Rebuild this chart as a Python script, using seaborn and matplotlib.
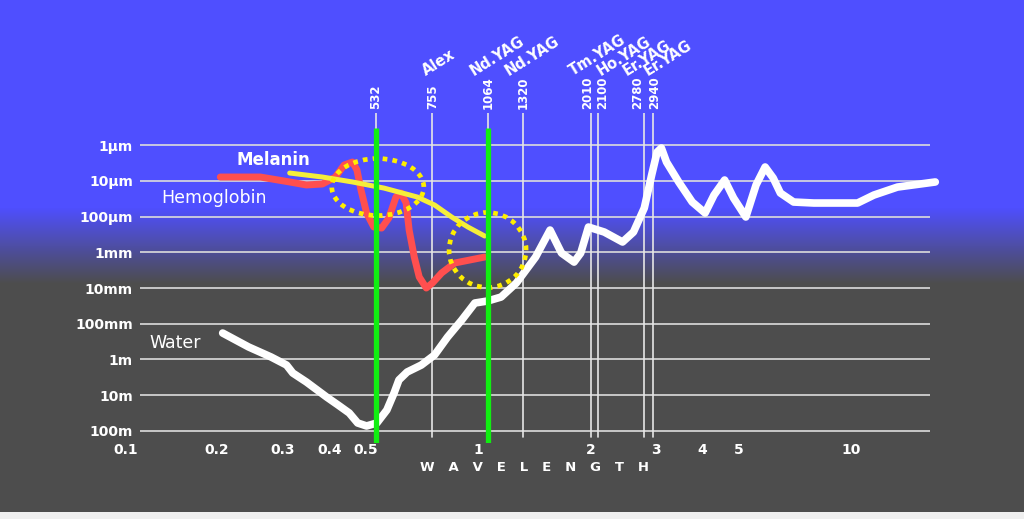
import numpy as np
import pandas as pd
import matplotlib
matplotlib.use("Agg")
import matplotlib.pyplot as plt
import seaborn as sns
from matplotlib.patches import Ellipse
from matplotlib.transforms import ScaledTranslation
from matplotlib.ticker import NullLocator

# ---------------- data (wavelength in µm, penetration depth in m) ----------------
water_wl = [0.207, 0.243, 0.279, 0.307, 0.319, 0.347, 0.393, 0.422, 0.452, 0.476,
            0.503, 0.536, 0.570, 0.596, 0.614, 0.646, 0.705, 0.765, 0.829, 0.905,
            0.981, 1.061, 1.153, 1.267, 1.427, 1.560, 1.674, 1.809, 1.885, 1.977,
            2.18, 2.44, 2.61, 2.79, 2.92, 3.02, 3.10, 3.20, 3.45, 3.75,
            4.06, 4.29, 4.58, 4.84, 5.22, 5.56, 5.88, 6.18, 6.46, 7.01,
            7.94, 10.4, 11.5, 13.3, 16.8]
water_depth = [0.182, 0.447, 0.851, 1.43, 2.39, 4.26, 11.2, 18.8, 31.4, 59.7,
               72.4, 59.7, 25.9, 8.65, 3.74, 2.24, 1.43, 0.748, 0.235, 0.0785,
               0.0263, 0.0231, 0.0179, 0.00725, 0.00136, 2.39e-4, 1.05e-3, 1.88e-3, 1.05e-3, 1.97e-4,
               2.72e-4, 5.16e-4, 2.72e-4, 5.78e-5, 6.90e-6, 1.57e-6, 1.21e-6, 2.99e-6, 1.08e-5, 3.93e-5,
               7.98e-5, 2.51e-5, 9.53e-6, 3.04e-5, 1.03e-4, 1.31e-5, 4.12e-6, 8.37e-6, 2.20e-5, 3.93e-5,
               4.19e-5, 4.19e-5, 2.51e-5, 1.50e-5, 1.08e-5]

hb_wl = [0.204, 0.261, 0.313, 0.347, 0.383, 0.415, 0.438, 0.461, 0.474, 0.486,
         0.503, 0.526, 0.552, 0.577, 0.603, 0.622, 0.642, 0.654, 0.675, 0.696,
         0.727, 0.755, 0.799, 0.866, 1.042]
hb_depth = [7.85e-6, 7.85e-6, 1.08e-5, 1.31e-5, 1.23e-5, 7.85e-6, 3.62e-6, 2.99e-6, 5.0e-6, 1.82e-5,
            7.98e-5, 1.97e-4, 2.10e-4, 1.10e-4, 2.85e-5, 2.20e-5, 4.19e-5, 2.39e-4, 1.36e-3, 4.92e-3,
            1.00e-2, 7.25e-3, 3.80e-3, 2.00e-3, 1.36e-3]

mel_wl = [0.313, 0.383, 0.461, 0.560, 0.688, 0.765, 0.850, 0.940, 1.042]
mel_depth = [6.07e-6, 7.85e-6, 1.08e-5, 1.60e-5, 2.85e-5, 4.76e-5, 1.03e-4, 1.97e-4, 3.51e-4]

laser_wl = [0.532, 0.755, 1.064, 1.32, 2.01, 2.10, 2.78, 2.94]
laser_nm = ["532", "755", "1064", "1320", "2010", "2100", "2780", "2940"]
laser_name = ["", "Alex", "Nd.YAG", "Nd.YAG", "Tm.YAG", "Ho.YAG", "Er.YAG", "Er.YAG"]
highlight_wl = [0.532, 1.064]

circle_wl = [0.539, 1.061]
circle_depth = [1.5e-5, 8.65e-4]

x_ticks = [0.2, 0.3, 0.4, 0.5, 1, 2, 3, 4, 5, 10]
x_ticklabels = ["0.2", "0.3", "0.4", "0.5", "1", "2", "3", "4", "5", "10"]
y_ticks = [1e-6, 1e-5, 1e-4, 1e-3, 1e-2, 1e-1, 1, 10, 100]
y_ticklabels = ["1µm", "10µm", "100µm", "1mm", "10mm", "100mm", "1m", "10m", "100m"]

# ---------------- style ----------------
sns.set_theme(style="white")
plt.rcParams["font.family"] = ["DejaVu Sans"]

fig = plt.figure(figsize=(10.24, 5.19), dpi=100)

# background gradient (blue -> gray)
bg = fig.add_axes([0, 0, 1, 1], zorder=-10)
rows = np.arange(519)
t = np.clip((rows - 207) / (283 - 207), 0, 1)
blue = np.array([79, 79, 255]) / 255
gray = np.array([77, 77, 77]) / 255
img = (1 - t)[:, None] * blue + t[:, None] * gray
img[512:] = [0.94, 0.94, 0.94]
bg.imshow(img[:, None, :], aspect="auto", extent=(0, 1, 0, 1), interpolation="nearest")
bg.axis("off")

ax = fig.add_axes([140 / 1024, 76 / 519, 790 / 1024, 330 / 519])
ax.patch.set_alpha(0)
ax.set_xscale("log")
ax.set_yscale("log")
for s in ax.spines.values():
    s.set_visible(False)

ax.grid(axis="y", color="#dcdcdc", lw=1.2)
ax.grid(axis="x", visible=False)
ax.set_axisbelow(True)

# laser lines
for wl in laser_wl:
    ax.axvline(wl, ymin=0.018, ymax=1.0, color="#e6e6e6", lw=1.2, zorder=1)

# curves
water_df = pd.DataFrame({"wl": water_wl, "depth": water_depth})
hb_df = pd.DataFrame({"wl": hb_wl, "depth": hb_depth})
mel_df = pd.DataFrame({"wl": mel_wl, "depth": mel_depth})
sns.lineplot(data=water_df, x="wl", y="depth", sort=False, estimator=None, color="white",
             lw=5.5, ax=ax, solid_capstyle="round", solid_joinstyle="round", clip_on=False, zorder=3)
sns.lineplot(data=hb_df, x="wl", y="depth", sort=False, estimator=None, color="#ff4f4f",
             lw=5.0, ax=ax, solid_capstyle="round", solid_joinstyle="round", zorder=3)
sns.lineplot(data=mel_df, x="wl", y="depth", sort=False, estimator=None, color="#f5ee3a",
             lw=3.6, ax=ax, solid_capstyle="round", solid_joinstyle="round", zorder=3.5)

# highlight green lines
for wl in highlight_wl:
    ax.axvline(wl, ymin=0, ymax=0.955, color="#11ee11", lw=3.8, zorder=6, solid_capstyle="butt")

# dotted circles
circle_size = [(0.92, 0.57), (0.77, 0.75)]
for (cx, cy), (w, h) in zip(zip(circle_wl, circle_depth), circle_size):
    tr = fig.dpi_scale_trans + ScaledTranslation(cx, cy, ax.transData)
    e = Ellipse((0, 0), w, h, transform=tr, fill=False, ec="#ffee00", lw=3.4,
                ls=(0, (1, 1.1)), capstyle="butt", zorder=5)
    ax.add_patch(e)

# series labels
ax.text(0.226, 2.63e-6, "Melanin", color="white", fontsize=12, fontweight="bold",
        ha="left", va="center", zorder=7)
ax.text(0.142, 3.04e-5, "Hemoglobin", color="white", fontsize=12.5,
        ha="left", va="center", zorder=7)
ax.text(0.132, 0.345, "Water", color="white", fontsize=12.5,
        ha="left", va="center", zorder=7)

# laser labels on top
num_dx = [0, 0, 0, 0, -4, 4, -6, 2]
name_dx = [0, -6, -14, -14, -18, 2, -17, -5]
for wl, nm, name, ndx, mdx in zip(laser_wl, laser_nm, laser_name, num_dx, name_dx):
    ax.annotate(nm, xy=(wl, 1.0), xycoords=("data", "axes fraction"),
                xytext=(ndx, 4), textcoords="offset pixels", rotation=90,
                ha="center", va="bottom", color="white", fontsize=8.5, fontweight="bold",
                annotation_clip=False)
    if name:
        ax.annotate(name, xy=(wl, 1.0), xycoords=("data", "axes fraction"),
                    xytext=(mdx, 37), textcoords="offset pixels", rotation=32,
                    rotation_mode="anchor", ha="left", va="baseline", color="white",
                    fontsize=10.5, fontweight="bold", annotation_clip=False)

# axes
ax.set_xlim(0.1243, 16.26)
ax.set_ylim(216.8, 1.27e-7)
ax.set_xticks(x_ticks, x_ticklabels)
ax.set_yticks(y_ticks, y_ticklabels)
ax.xaxis.set_minor_locator(NullLocator())
ax.yaxis.set_minor_locator(NullLocator())
ax.tick_params(axis="x", length=0, pad=0, colors="white", labelsize=10)
ax.tick_params(axis="y", length=0, pad=5, colors="white", labelsize=10)
for lab in ax.get_xticklabels() + ax.get_yticklabels():
    lab.set_fontweight("bold")
ax.annotate("0.1", xy=(0, 0), xycoords="axes fraction", xytext=(-14, 0),
            textcoords="offset pixels", ha="center", va="top", color="white",
            fontsize=10, fontweight="bold", annotation_clip=False)
ax.set_ylabel("")
ax.set_xlabel("W   A   V   E   L   E   N   G   T   H", color="white", fontsize=9.5,
              fontweight="bold", labelpad=3)

fig.savefig("out.png", dpi=100)
